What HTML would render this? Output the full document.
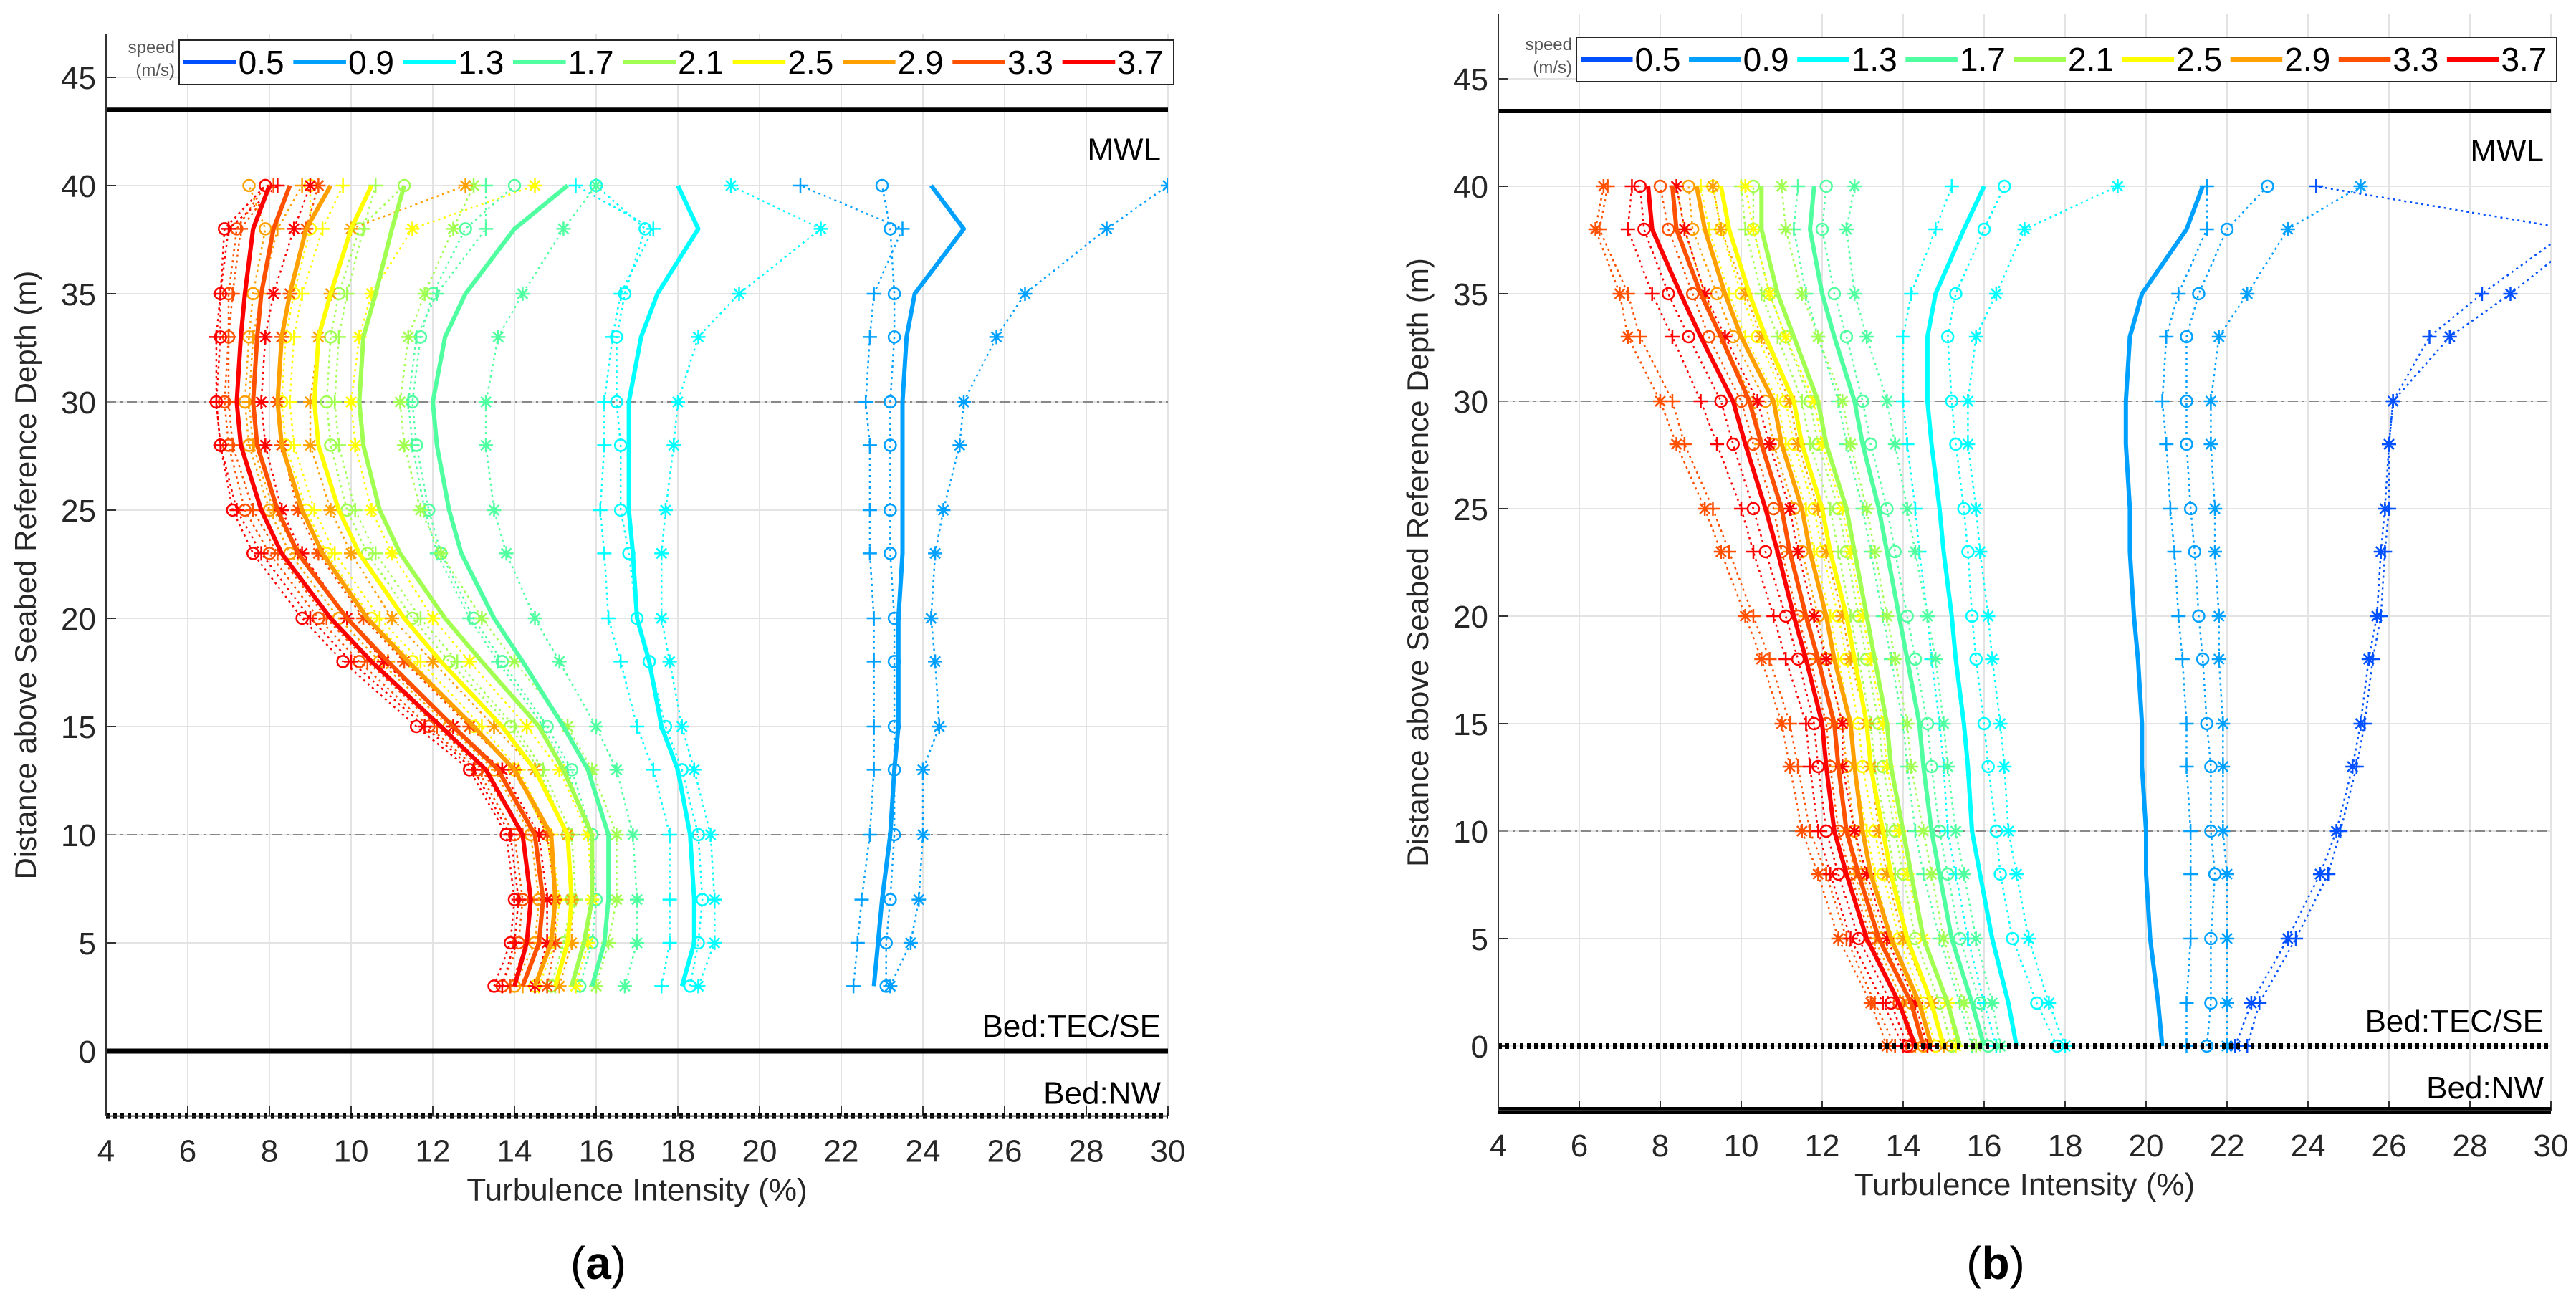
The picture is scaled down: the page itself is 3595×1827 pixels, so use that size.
<!DOCTYPE html>
<html><head><meta charset="utf-8"><style>
html,body{margin:0;padding:0;background:#fff}
svg text{font-family:"Liberation Sans",sans-serif}
</style></head><body>
<svg id="fig" width="3595" height="1822" viewBox="0 0 3595 1822" xmlns="http://www.w3.org/2000/svg"></svg>
<script>
const speeds=["0.5","0.9","1.3","1.7","2.1","2.5","2.9","3.3","3.7"];
const colors=["#0050ff","#00a0ff","#00ffff","#50ffa0","#a0ff50","#ffff00","#ffa000","#ff5000","#ff0000"];
const xTicks=[4,6,8,10,12,14,16,18,20,22,24,26,28,30];
const yTicks=[0,5,10,15,20,25,30,35,40,45];
const depthA=[3,5,7,10,13,15,18,20,23,25,28,30,33,35,38,40];
const depthB=[0,2,5,8,10,13,15,18,20,23,25,28,30,33,35,38,40];
// panel a: [speedIndex, solid, plus, circle, star]
const a09S=[22.8,22.9,23.0,23.2,23.3,23.4,23.4,23.4,23.5,23.5,23.5,23.5,23.6,23.8,25.0,24.2];
const a09P=[22.3,22.4,22.5,22.7,22.8,22.8,22.8,22.8,22.7,22.7,22.7,22.6,22.7,22.8,23.5,21.0];
const a09O=[23.1,23.1,23.2,23.3,23.3,23.3,23.3,23.3,23.2,23.2,23.2,23.2,23.3,23.3,23.2,23.0];
const a09X=[23.2,23.7,23.9,24.0,24.0,24.4,24.3,24.2,24.3,24.5,24.9,25.0,25.8,26.5,28.5,30.0];
const a13S=[18.1,18.4,18.4,18.3,18.0,17.6,17.3,17.0,16.9,16.8,16.8,16.8,17.1,17.5,18.5,18.0];
const a13P=[17.6,17.8,17.8,17.8,17.4,17.0,16.6,16.3,16.2,16.1,16.2,16.2,16.4,16.6,17.4,15.5];
const a13O=[18.3,18.5,18.6,18.5,18.1,17.7,17.3,17.0,16.8,16.6,16.6,16.5,16.5,16.7,17.2,16.0];
const a13X=[18.5,18.9,18.9,18.8,18.4,18.1,17.8,17.6,17.6,17.7,17.9,18.0,18.5,19.5,21.5,19.3];
const a17S=[15.9,16.2,16.3,16.3,15.8,15.2,14.2,13.5,12.7,12.4,12.1,12.0,12.3,12.8,14.0,15.3];
const a17P=[15.5,15.8,15.9,15.8,15.3,14.7,13.6,12.9,12.1,11.8,11.5,11.4,11.6,12.1,13.3,13.3];
const a17O=[15.6,15.9,16.0,15.9,15.4,14.8,13.7,13.0,12.2,11.9,11.6,11.5,11.7,12.0,12.8,14.0];
const a17X=[16.7,17.0,17.0,16.9,16.5,16.0,15.1,14.5,13.8,13.5,13.3,13.3,13.6,14.2,15.2,16.0];
const a21S=[15.4,15.7,15.9,15.9,15.2,14.6,13.2,12.3,11.2,10.7,10.3,10.2,10.3,10.6,11.0,11.3];
const a21P=[15.0,15.3,15.5,15.4,14.7,14.0,12.6,11.7,10.6,10.1,9.7,9.6,9.7,9.9,10.3,10.6];
const a21O=[14.9,15.2,15.4,15.3,14.6,13.9,12.4,11.5,10.4,9.9,9.5,9.4,9.5,9.7,10.2,11.3];
const a21X=[16.0,16.3,16.5,16.5,15.9,15.3,14.0,13.2,12.2,11.7,11.3,11.2,11.4,11.8,12.5,13.0];
const a25S=[15.0,15.3,15.4,15.3,14.5,13.7,12.2,11.3,10.2,9.7,9.2,9.1,9.2,9.5,10.0,10.5];
const a25P=[14.6,15.0,15.1,14.9,14.1,13.2,11.7,10.7,9.6,9.1,8.6,8.5,8.6,8.8,9.3,9.8];
const a25O=[14.5,14.9,15.0,14.8,14.0,13.0,11.5,10.5,9.4,8.9,8.4,8.3,8.4,8.6,9.0,9.0];
const a25X=[15.5,15.8,15.9,15.8,15.1,14.3,12.9,12.0,11.0,10.5,10.1,10.0,10.2,10.5,11.5,14.5];
const a29S=[14.5,14.9,15.0,14.9,14.0,13.0,11.4,10.4,9.3,8.8,8.3,8.2,8.3,8.5,8.9,9.5];
const a29P=[14.2,14.6,14.7,14.5,13.6,12.5,10.9,9.9,8.7,8.1,7.6,7.5,7.6,7.8,8.2,8.8];
const a29O=[14.0,14.5,14.6,14.4,13.5,12.4,10.7,9.7,8.5,8.0,7.5,7.4,7.5,7.6,7.9,7.5];
const a29X=[15.1,15.4,15.4,15.3,14.5,13.5,12.0,11.0,10.0,9.5,9.0,9.0,9.2,9.5,10.0,12.8];
const a33S=[14.2,14.6,14.7,14.5,13.6,12.5,10.9,9.9,8.7,8.2,7.7,7.6,7.7,7.8,8.1,8.5];
const a33P=[13.9,14.3,14.4,14.2,13.2,12.1,10.4,9.4,8.2,7.6,7.1,7.0,7.0,7.1,7.3,8.1];
const a33O=[13.7,14.1,14.2,14.0,13.1,11.9,10.2,9.2,8.0,7.4,7.0,6.9,7.0,7.0,7.2,7.9];
const a33X=[14.8,15.0,15.0,14.8,14.0,12.9,11.3,10.3,9.2,8.7,8.3,8.2,8.3,8.5,8.9,9.2];
const a37S=[14.0,14.3,14.4,14.2,13.3,12.2,10.5,9.5,8.3,7.8,7.3,7.2,7.3,7.4,7.6,8.0];
const a37P=[13.7,14.0,14.1,13.9,13.0,11.8,10.0,9.0,7.8,7.2,6.8,6.7,6.7,6.8,7.0,8.2];
const a37O=[13.5,13.9,14.0,13.8,12.9,11.6,9.8,8.8,7.6,7.1,6.8,6.7,6.8,6.8,6.9,7.9];
const a37X=[14.5,14.8,14.8,14.6,13.7,12.5,10.8,9.9,8.8,8.3,7.9,7.8,7.9,8.1,8.6,9.0];
// panel b
const b05P=[22.5,22.8,23.7,24.5,24.8,25.2,25.4,25.6,25.8,25.9,26.0,26.0,26.1,27.0,28.3,30.5,24.2];
const b05X=[22.2,22.6,23.5,24.3,24.7,25.1,25.3,25.5,25.7,25.8,25.9,26.0,26.1,27.5,29.0,31.0,33.0];
const b09S=[20.4,20.3,20.1,20.0,20.0,19.9,19.9,19.8,19.7,19.6,19.6,19.5,19.5,19.6,19.9,21.0,21.4];
const b09P=[21.0,21.0,21.1,21.1,21.1,21.0,21.0,20.9,20.8,20.7,20.6,20.5,20.4,20.5,20.8,21.5,21.5];
const b09O=[21.5,21.6,21.6,21.7,21.6,21.6,21.5,21.4,21.3,21.2,21.1,21.0,21.0,21.0,21.3,22.0,23.0];
const b09X=[22.0,22.0,22.0,22.0,21.9,21.9,21.9,21.8,21.8,21.7,21.7,21.6,21.6,21.8,22.5,23.5,25.3];
const b13S=[16.8,16.6,16.2,15.9,15.7,15.6,15.5,15.3,15.2,15.0,14.9,14.7,14.6,14.6,14.8,15.5,16.0];
const b13P=[16.3,16.0,15.6,15.3,15.1,15.0,14.9,14.7,14.6,14.4,14.3,14.1,14.0,14.0,14.2,14.8,15.2];
const b13O=[17.8,17.3,16.7,16.4,16.3,16.1,16.0,15.8,15.7,15.6,15.5,15.3,15.2,15.1,15.3,16.0,16.5];
const b13X=[18.0,17.6,17.1,16.8,16.6,16.5,16.4,16.2,16.1,15.9,15.8,15.6,15.6,15.8,16.3,17.0,19.3];
const b17S=[16.0,15.7,15.2,14.9,14.7,14.5,14.4,14.1,13.9,13.6,13.4,13.0,12.8,12.3,12.0,11.7,11.8];
const b17P=[15.7,15.4,14.9,14.5,14.3,14.1,14.0,13.7,13.5,13.2,13.0,12.6,12.4,11.9,11.6,11.3,11.4];
const b17O=[16.1,15.9,15.4,15.1,14.9,14.7,14.6,14.3,14.1,13.8,13.6,13.2,13.0,12.6,12.3,12.0,12.1];
const b17X=[16.4,16.2,15.8,15.5,15.3,15.1,15.0,14.8,14.6,14.3,14.1,13.8,13.6,13.1,12.8,12.6,12.8];
const b21S=[15.4,15.1,14.5,14.2,14.0,13.7,13.6,13.3,13.1,12.8,12.6,12.1,11.9,11.3,10.9,10.5,10.5];
const b21P=[15.0,14.7,14.1,13.8,13.6,13.3,13.2,12.9,12.7,12.4,12.2,11.7,11.5,10.9,10.5,10.1,10.0];
const b21O=[15.2,14.9,14.3,14.0,13.8,13.5,13.4,13.1,12.9,12.6,12.4,11.9,11.7,11.1,10.7,10.3,10.3];
const b21X=[15.8,15.5,15.0,14.7,14.5,14.2,14.1,13.8,13.6,13.3,13.1,12.7,12.5,11.9,11.5,11.1,11.0];
const b25S=[15.0,14.7,14.1,13.7,13.5,13.2,13.1,12.8,12.6,12.2,12.0,11.5,11.3,10.6,10.2,9.7,9.5];
const b25P=[14.6,14.3,13.7,13.3,13.1,12.8,12.7,12.4,12.2,11.8,11.6,11.1,10.9,10.1,9.7,9.2,9.0];
const b25O=[14.8,14.5,13.9,13.5,13.3,13.0,12.9,12.6,12.4,12.0,11.8,11.3,11.1,10.4,10.0,9.5,9.3];
const b25X=[15.3,15.1,14.5,14.1,13.9,13.6,13.5,13.2,13.0,12.7,12.5,12.0,11.8,11.1,10.7,10.3,10.1];
const b29S=[14.7,14.4,13.7,13.2,13.0,12.8,12.7,12.3,12.1,11.7,11.5,11.0,10.8,10.0,9.6,9.1,8.9];
const b29P=[14.3,14.0,13.3,12.8,12.6,12.4,12.3,11.9,11.6,11.2,11.0,10.5,10.3,9.5,9.1,8.6,8.4];
const b29O=[14.5,14.2,13.5,13.0,12.8,12.6,12.5,12.1,11.9,11.5,11.3,10.8,10.6,9.8,9.4,8.8,8.7];
const b29X=[15.0,14.7,14.0,13.6,13.4,13.2,13.1,12.7,12.5,12.1,11.9,11.4,11.2,10.5,10.1,9.5,9.3];
const b33S=[14.5,14.2,13.4,12.9,12.6,12.4,12.3,11.9,11.6,11.2,11.0,10.5,10.2,9.5,9.0,8.4,8.3];
const b33P=[13.8,13.3,12.6,12.1,11.7,11.4,11.2,10.7,10.3,9.7,9.3,8.6,8.3,7.5,7.2,6.5,6.7];
const b33O=[14.2,13.9,13.2,12.7,12.4,12.2,12.1,11.7,11.4,11.0,10.8,10.3,10.0,9.2,8.8,8.2,8.0];
const b33X=[13.6,13.2,12.4,11.9,11.5,11.2,11.0,10.5,10.1,9.5,9.1,8.4,8.0,7.2,7.0,6.4,6.6];
const b37S=[14.3,13.9,13.1,12.6,12.3,12.1,12.0,11.6,11.3,10.9,10.6,10.1,9.8,9.0,8.5,7.8,7.7];
const b37P=[14.0,13.5,12.7,12.2,11.9,11.7,11.6,11.1,10.8,10.3,10.0,9.4,9.0,8.3,7.8,7.2,7.3];
const b37O=[14.1,13.7,12.9,12.4,12.1,11.9,11.8,11.4,11.1,10.6,10.3,9.8,9.5,8.7,8.2,7.6,7.5];
const b37X=[14.6,14.3,13.6,13.1,12.8,12.5,12.5,12.1,11.8,11.4,11.2,10.7,10.4,9.6,9.1,8.6,8.4];

const seriesA=[[1,a09S,a09P,a09O,a09X],[2,a13S,a13P,a13O,a13X],[3,a17S,a17P,a17O,a17X],[4,a21S,a21P,a21O,a21X],[5,a25S,a25P,a25O,a25X],[6,a29S,a29P,a29O,a29X],[7,a33S,a33P,a33O,a33X],[8,a37S,a37P,a37O,a37X]];
const seriesB=[[0,null,b05P,null,b05X],[1,b09S,b09P,b09O,b09X],[2,b13S,b13P,b13O,b13X],[3,b17S,b17P,b17O,b17X],[4,b21S,b21P,b21O,b21X],[5,b25S,b25P,b25O,b25X],[6,b29S,b29P,b29O,b29X],[7,b33S,b33P,b33O,b33X],[8,b37S,b37P,b37O,b37X]];

const NS="http://www.w3.org/2000/svg";
const svg=document.getElementById('fig');
function mk(tag,attrs,parent){const e=document.createElementNS(NS,tag);for(const k in attrs)e.setAttribute(k,attrs[k]);(parent||svg).appendChild(e);return e;}

function panel(cfg){
  const g=mk('g',{});
  
  
  const X=v=>cfg.x0+(v-4)/26*(cfg.x1-cfg.x0);
  const Y=v=>cfg.y0-v*cfg.py;
  const top=Y(cfg.ymax), bot=Y(-3);
  const cid='clip'+cfg.id;
  const cp=mk('clipPath',{id:cid},g);mk('rect',{x:cfg.x0,y:top,width:cfg.x1-cfg.x0,height:bot-top},cp);
  // grid
  xTicks.forEach(t=>{const l=mk('line',{x1:X(t),x2:X(t),y1:top,y2:bot,stroke:'#e3e3e3','stroke-width':2},g);
    
    
    const tl=mk('line',{x1:X(t),x2:X(t),y1:bot,y2:bot-14,stroke:'#333','stroke-width':2},g);
    const tx=mk('text',{x:X(t),y:bot+64,'font-size':44,'text-anchor':'middle',fill:'#262626'},g);tx.textContent=t;
    
    });
  yTicks.forEach(t=>{const l=mk('line',{x1:cfg.x0,x2:cfg.x1,y1:Y(t),y2:Y(t),stroke:'#e3e3e3','stroke-width':2},g);
    
    
    mk('line',{x1:cfg.x0,x2:cfg.x0+14,y1:Y(t),y2:Y(t),stroke:'#333','stroke-width':2},g);
    const tx=mk('text',{x:cfg.x0-14,y:Y(t)+16,'font-size':44,'text-anchor':'end',fill:'#262626'},g);tx.textContent=t;
    
    });
  [10,30].forEach(t=>{const l=mk('line',{x1:cfg.x0,x2:cfg.x1,y1:Y(t),y2:Y(t),stroke:'#888','stroke-width':2,'stroke-dasharray':'14,6,3,6'},g);
    
    });
  // series
  const sg=mk('g',{'clip-path':'url(#'+cid+')'},g);
  const depth=cfg.depth;
  cfg.series.forEach(s=>{
    const c=colors[s[0]];
    [[s[2],'+'],[s[3],'o'],[s[4],'*']].forEach(([arr,m])=>{
      if(!arr)return;
      const pts=arr.map((v,i)=>X(v).toFixed(1)+','+Y(depth[i]).toFixed(1)).join(' ');
      const pl=mk('polyline',{points:pts,fill:'none',stroke:c,'stroke-width':2.5,'stroke-dasharray':'3,5'},sg);
      
      
      let d='';
      arr.forEach((v,i)=>{const x=X(v),y=Y(depth[i]),r=10;
        if(m=='+')d+=`M${x-r},${y}H${x+r}M${x},${y-r}V${y+r}`;
        else if(m=='*'){const q=r*0.7;d+=`M${x-r},${y}H${x+r}M${x},${y-r}V${y+r}M${x-q},${y-q}L${x+q},${y+q}M${x-q},${y+q}L${x+q},${y-q}`;}
        else d+=`M${x-8},${y}a8,8 0 1,0 16,0a8,8 0 1,0 -16,0`;});
      const mp=mk('path',{d:d,fill:'none',stroke:c,'stroke-width':2.5},sg);
      
      
    });
  });
  cfg.series.forEach(s=>{
    if(!s[1])return;
    const pts=s[1].map((v,i)=>X(v).toFixed(1)+','+Y(depth[i]).toFixed(1)).join(' ');
    const pl=mk('polyline',{points:pts,fill:'none',stroke:colors[s[0]],'stroke-width':6,'stroke-linejoin':'round'},sg);
    
    
  });
  // MWL & beds
  const mwl=mk('line',{x1:cfg.x0,x2:cfg.x1,y1:Y(43.5),y2:Y(43.5),stroke:'#000','stroke-width':6},g);
  
  
  const solidY=cfg.id=='a'?0:-3, dotY=cfg.id=='a'?-3:0;
  const b1=mk('line',{x1:cfg.x0,x2:cfg.x1,y1:Y(solidY),y2:Y(solidY),stroke:'#000','stroke-width':cfg.id=='a'?7:10},g);
  
  
  const b2=mk('line',{x1:cfg.x0,x2:cfg.x1,y1:Y(dotY),y2:Y(dotY),stroke:'#000','stroke-width':8,'stroke-dasharray':'5,5'},g);
  
  
  [['MWL',41.7,'mwl-label'],['Bed:TEC/SE',1.2,'bed-tec-label'],['Bed:NW',-1.9,'bed-nw-label']].forEach(([t,v,n])=>{
    const tx=mk('text',{x:cfg.x1-10,y:Y(v)+16,'font-size':44,'text-anchor':'end',fill:'#000'},g);tx.textContent=t;
    
    });
  // axes
  mk('line',{x1:cfg.x0,x2:cfg.x0,y1:top,y2:bot,stroke:'#333','stroke-width':2},g);
  mk('line',{x1:cfg.x0,x2:cfg.x1,y1:bot,y2:bot,stroke:'#333','stroke-width':2},g);
  const xl=mk('text',{x:(cfg.x0+cfg.x1)/2,y:bot+118,'font-size':44,'text-anchor':'middle',fill:'#262626'},g);
  xl.textContent='Turbulence Intensity (%)';
  
  
  const yl=mk('text',{x:0,y:0,'font-size':42,'text-anchor':'middle',fill:'#262626',transform:`translate(${cfg.x0-98},${(top+bot)/2}) rotate(-90)`},g);
  yl.textContent='Distance above Seabed Reference Depth (m)';
  
  
  // legend
  const lg=mk('g',{},g);
  
  
  const lx=cfg.lx, ly=cfg.ly, lw=cfg.x1+8-lx, lh=62;
  mk('rect',{x:lx,y:ly,width:lw,height:lh,fill:'#fff',stroke:'#262626','stroke-width':2},lg);
  const s1=mk('text',{x:lx-6,y:ly+18,'font-size':24,'text-anchor':'end',fill:'#555'},lg);s1.textContent='speed';
  const s2=mk('text',{x:lx-6,y:ly+50,'font-size':24,'text-anchor':'end',fill:'#555'},lg);s2.textContent='(m/s)';
  const step=(lw-8)/9;
  speeds.forEach((sp,i)=>{
    const ex=lx+6+i*step;
    const e=mk('g',{},lg);
    
    
    mk('line',{x1:ex,x2:ex+step*0.48,y1:ly+31,y2:ly+31,stroke:colors[i],'stroke-width':6},e);
    const t=mk('text',{x:ex+step*0.5,y:ly+47,'font-size':46,fill:'#000'},e);t.textContent=sp;
  });
  const cap=mk('text',{x:cfg.capx,y:1785,'font-size':64,'text-anchor':'middle',fill:'#000','font-family':'Liberation Serif, serif'},g);
  cap.innerHTML='(<tspan font-weight="bold">'+cfg.id+'</tspan>)';
  
  
}
panel({id:'a',name:'panel-a',x0:148,x1:1630,y0:1467,py:30.2,ymax:47,depth:depthA,series:seriesA,lx:250,ly:56,capx:835});
panel({id:'b',name:'panel-b',x0:2091,x1:3560,y0:1460,py:30,ymax:48,depth:depthB,series:seriesB,lx:2200,ly:52,capx:2785});
</script>
</body></html>
